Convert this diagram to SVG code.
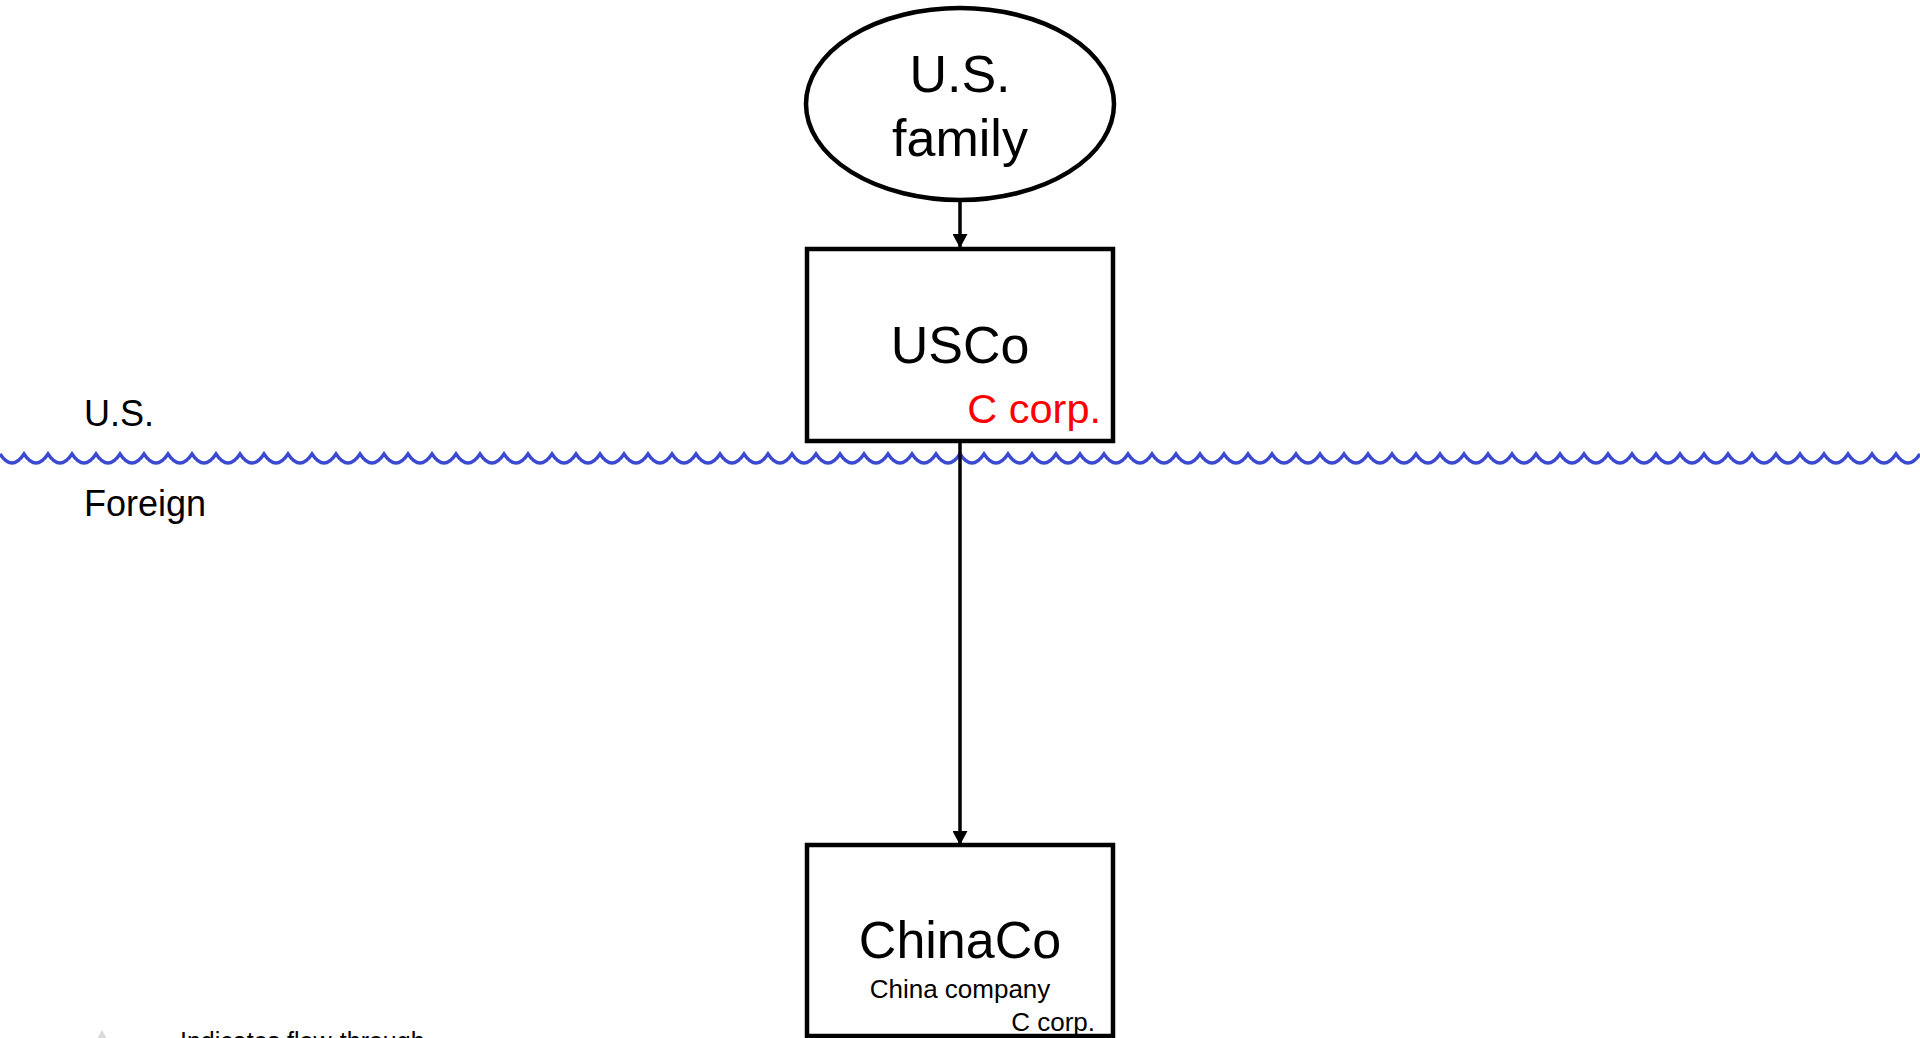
<svg xmlns="http://www.w3.org/2000/svg" width="1920" height="1038" viewBox="0 0 1920 1038">
  <style>
    text { font-family: "Liberation Sans", Arial, sans-serif; fill: #000; }
    .shape { fill: #fff; stroke: #000; stroke-width: 4.5; }
    .big { font-size: 52px; text-anchor: middle; }
    .side { font-size: 36px; }
    .link { stroke: #000; stroke-width: 3.5; fill: none; marker-end: url(#arrow); }
    .wave { fill: none; stroke: #3b4bd0; stroke-width: 3.5; stroke-linejoin: miter; }
  </style>
  <defs>
    <marker id="arrow" markerUnits="userSpaceOnUse" viewBox="0 0 14 15" refX="14" refY="7.5" markerWidth="14" markerHeight="15" orient="auto">
      <path d="M0,0 L14,7.5 L0,15 z" fill="#000"/>
    </marker>
  </defs>

  <!-- border between U.S. and foreign -->
  <path class="wave" d="M0,454 q12,18 24,0 q12,18 24,0 q12,18 24,0 q12,18 24,0 q12,18 24,0 q12,18 24,0 q12,18 24,0 q12,18 24,0 q12,18 24,0 q12,18 24,0 q12,18 24,0 q12,18 24,0 q12,18 24,0 q12,18 24,0 q12,18 24,0 q12,18 24,0 q12,18 24,0 q12,18 24,0 q12,18 24,0 q12,18 24,0 q12,18 24,0 q12,18 24,0 q12,18 24,0 q12,18 24,0 q12,18 24,0 q12,18 24,0 q12,18 24,0 q12,18 24,0 q12,18 24,0 q12,18 24,0 q12,18 24,0 q12,18 24,0 q12,18 24,0 q12,18 24,0 q12,18 24,0 q12,18 24,0 q12,18 24,0 q12,18 24,0 q12,18 24,0 q12,18 24,0 q12,18 24,0 q12,18 24,0 q12,18 24,0 q12,18 24,0 q12,18 24,0 q12,18 24,0 q12,18 24,0 q12,18 24,0 q12,18 24,0 q12,18 24,0 q12,18 24,0 q12,18 24,0 q12,18 24,0 q12,18 24,0 q12,18 24,0 q12,18 24,0 q12,18 24,0 q12,18 24,0 q12,18 24,0 q12,18 24,0 q12,18 24,0 q12,18 24,0 q12,18 24,0 q12,18 24,0 q12,18 24,0 q12,18 24,0 q12,18 24,0 q12,18 24,0 q12,18 24,0 q12,18 24,0 q12,18 24,0 q12,18 24,0 q12,18 24,0 q12,18 24,0 q12,18 24,0 q12,18 24,0 q12,18 24,0 q12,18 24,0 q12,18 24,0 q12,18 24,0"/>

  <text class="side" x="84" y="426">U.S.</text>
  <text class="side" x="84" y="516">Foreign</text>

  <!-- ownership links -->
  <g id="connectors">
    <line class="link" x1="960" y1="201" x2="960" y2="248"/>
    <line class="link" x1="960" y1="443" x2="960" y2="845"/>
  </g>

  <g id="us-family">
    <ellipse class="shape" cx="960" cy="104" rx="154" ry="96"/>
    <text class="big" x="960" y="92">U.S.</text>
    <text class="big" x="960" y="156">family</text>
  </g>

  <g id="usco">
    <rect class="shape" x="807" y="249" width="306" height="192"/>
    <text class="big" x="960" y="363">USCo</text>
    <text x="1101" y="423" font-size="41.5" text-anchor="end" style="fill:#ff0000">C corp.</text>
  </g>

  <g id="chinaco">
    <rect class="shape" x="807" y="845" width="306" height="191"/>
    <text class="big" x="960" y="958">ChinaCo</text>
    <text x="960" y="998" font-size="26" text-anchor="middle">China company</text>
    <text x="1095" y="1031" font-size="26" text-anchor="end">C corp.</text>
  </g>

  <g id="legend">
    <path d="M102,1030 L114,1052 L90,1052 z" fill="#d9d9d9"/>
    <text x="180" y="1050" font-size="25">Indicates flow-through</text>
  </g>
</svg>
